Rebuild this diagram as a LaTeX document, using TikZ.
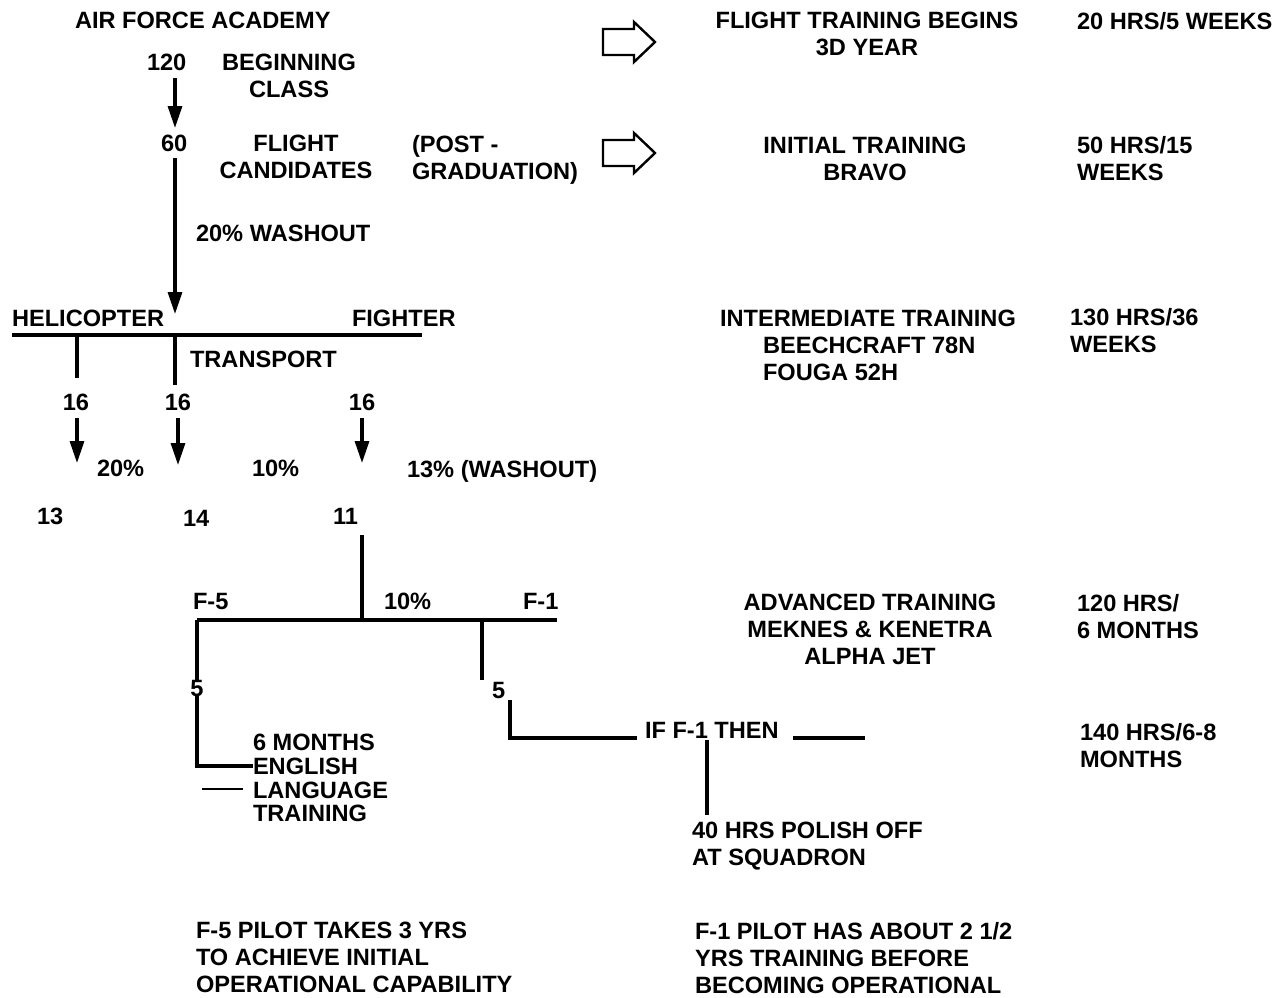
\documentclass[tikz,border=0pt]{standalone}
\usepackage{fontspec}
\setmainfont{Liberation Sans}
\usetikzlibrary{arrows.meta}
\begin{document}
\begin{tikzpicture}[x=0.5pt,y=-0.5pt,
  every node/.style={inner sep=0pt,outer sep=0pt,font=\fontsize{11.8}{13.5}\selectfont\bfseries},
  lt/.style={anchor=north west,align=left},
  ct/.style={anchor=north,align=center},
  ln/.style={line width=1.6pt},
  thinln/.style={line width=0.7pt},
  arr/.style={line width=1.6pt,-{Triangle[length=11pt,width=7pt]}},
  hollow/.style={line width=1.2pt,line join=miter}]
\useasboundingbox (0,0) rectangle (1284,997);
% --- top left
\node[lt] (afa) at (75,12) {AIR FORCE ACADEMY};
\node[lt] (n120) at (147,54) {120};
\node[ct] (beg) at (289,54) {BEGINNING\\CLASS};
\node[lt] (n60) at (161,135) {60};
\node[ct] (cand) at (296,135) {FLIGHT\\CANDIDATES};
\node[lt] (post) at (412,135) {(POST -\\GRADUATION)};
\node[lt] (wash) at (196,225) {20\% WASHOUT};
% --- hollow arrows
\draw[hollow] (603,29) -- (634,29) -- (634,22) -- (655,42) -- (634,62) -- (634,55) -- (603,55) -- cycle;
\draw[hollow] (603,140) -- (634,140) -- (634,133) -- (655,153) -- (634,173) -- (634,166) -- (603,166) -- cycle;
% --- right column
\node[ct] (ftb) at (867,12) {FLIGHT TRAINING BEGINS\\3D YEAR};
\node[lt] (h20) at (1077,12) {20 HRS/5 WEEKS};
\node[ct] (init) at (865,137) {INITIAL TRAINING\\BRAVO};
\node[lt] (h50) at (1077,136) {50 HRS/15\\WEEKS};
\node[lt] (inter) at (720,310) {INTERMEDIATE TRAINING};
\node[lt] (beech) at (763,337) {BEECHCRAFT 78N\\FOUGA 52H};
\node[lt] (h130) at (1070,308) {130 HRS/36\\WEEKS};
\node[ct] (adv) at (870,594) {ADVANCED TRAINING\\MEKNES \& KENETRA\\ALPHA JET};
\node[lt] (h120) at (1077,594) {120 HRS/\\6 MONTHS};
\node[lt] (h140) at (1080,723) {140 HRS/6-8\\MONTHS};
% --- branch level
\node[lt] (heli) at (12,310) {HELICOPTER};
\node[lt] (fight) at (352,310) {FIGHTER};
\node[lt] (trans) at (190,351) {TRANSPORT};
\node[ct] (s1) at (76,394) {16};
\node[ct] (s2) at (178,394) {16};
\node[ct] (s3) at (362,394) {16};
\node[lt] (p20) at (97,460) {20\%};
\node[lt] (p10) at (252,460) {10\%};
\node[lt] (p13) at (407,460) {13\% (WASHOUT)};
\node[lt] (r13) at (37,508) {13};
\node[lt] (r14) at (183,510) {14};
\node[lt] (r11) at (333,508) {11};
% --- fighter split
\node[lt] (f5) at (193,593) {F-5};
\node[lt] (p10b) at (384,593) {10\%};
\node[lt] (f1) at (523,593) {F-1};
\node[ct] (five1) at (197,680) {5};
\node[lt] (five2) at (492,682) {5};
\node[lt,font=\fontsize{11.8}{11.9}\selectfont\bfseries] (eng) at (253,734) {6 MONTHS\\ENGLISH\\LANGUAGE\\TRAINING};
\node[lt] (iff) at (645,722) {IF F-1 THEN};
\node[lt] (pol) at (692,822) {40 HRS POLISH OFF\\AT SQUADRON};
% --- bottom
\node[lt] (b1) at (196,922) {F-5 PILOT TAKES 3 YRS\\TO ACHIEVE INITIAL\\OPERATIONAL CAPABILITY};
\node[lt] (b2) at (695,922) {F-1 PILOT HAS ABOUT 2 1/2\\YRS TRAINING BEFORE\\BECOMING OPERATIONAL};
% --- coordinates
\coordinate (hlL) at (12,335);
\coordinate (hlR) at (422,335);
\coordinate (hl) at (175,335);
\coordinate (flL) at (197,620);
\coordinate (flR) at (557,620);
\coordinate (fl) at (362,620);
\coordinate (f1d) at (482,620);
\coordinate (f1e) at (482,680);
\coordinate (ifL) at (637,738);
\coordinate (ifR) at (865,738);
\coordinate (thenL) at (793,738);
\coordinate (polT) at (707,740);
\coordinate (polB) at (707,815);
% --- connectors
\draw[arr] (175,78) -- (175,128);
\draw[arr] (175,158) -- (175,314);
\draw[ln] (hlL) -- (hlR);
\draw[ln] (77,335) -- (77,378);
\draw[ln] (hl) -- (175,385);
\draw[arr] (77,418) -- (77,463);
\draw[arr] (178,418) -- (178,465);
\draw[arr] (362,418) -- (362,463);
\draw[ln] (362,535) -- (fl);
\draw[ln] (flL) -- (flR);
\draw[ln] (flL) -- (five1.north);
\draw[ln] (five1.south) -- (197,766) -- (eng.west |- 0,766);
\draw[thinln] (202,789) -- (243,789);
\draw[ln] (f1d) -- (f1e);
\draw[ln] (510,700) -- (510,738) -- (ifL);
\draw[ln] (thenL) -- (ifR);
\draw[ln] (polT) -- (polB);
\end{tikzpicture}
\end{document}
